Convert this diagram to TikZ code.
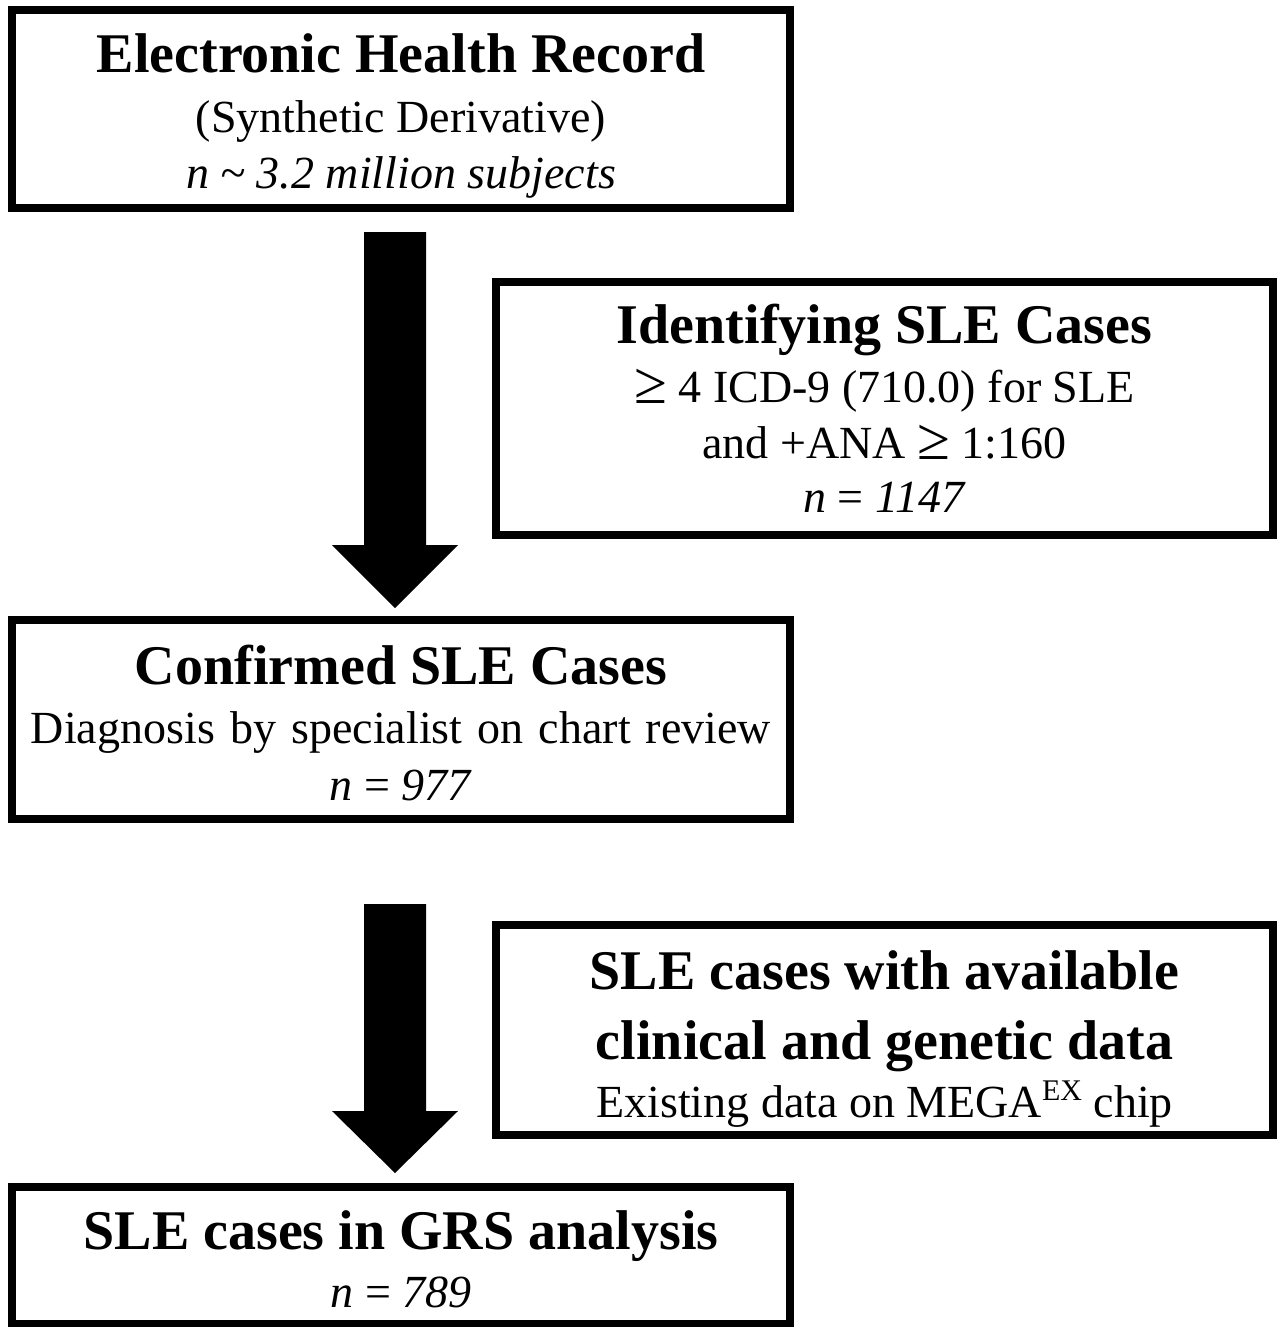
\documentclass[tikz,border=0pt]{standalone}
\usepackage{fontspec}
\setmainfont{Liberation Serif}
\usetikzlibrary{calc}
\newcommand\myge{\raisebox{-0.04em}{\scalebox{1.3}{≥}}}
\begin{document}
\begin{tikzpicture}[x=1pt,y=-1pt,
  box/.style={draw=black,line width=8.5pt,fill=white,inner sep=0pt,outer sep=0pt},
  ttl/.style={anchor=base,inner sep=0pt,font=\fontsize{56}{60}\selectfont\bfseries},
  txt/.style={anchor=base,inner sep=0pt,font=\fontsize{46}{50}\selectfont},
  fat/.style={fill=black}]
\useasboundingbox[fill=white] (0,0) rectangle (1280,1327);
% boxes
\node[box,minimum width=778pt,minimum height=198pt] (b1) at (401,109) {};
\node[box,minimum width=777pt,minimum height=253pt] (b2) at (884.5,408.5) {};
\node[box,minimum width=778pt,minimum height=199pt] (b3) at (401,719.5) {};
\node[box,minimum width=777pt,minimum height=210pt] (b4) at (884.5,1030) {};
\node[box,minimum width=778pt,minimum height=137pt] (b5) at (401,1255.5) {};
% texts
\node[ttl] (t1a) at (401,73) {Electronic Health Record};
\node[txt] (t1b) at (401,132) {(Synthetic Derivative)};
\node[txt] (t1c) at (401,188) {\itshape n \textasciitilde{} 3.2 million subjects};
\node[ttl] (t2a) at (884.5,343) {Identifying SLE Cases};
\node[txt] (t2b) at (884.5,402) {\myge{} 4 ICD-9 (710.0) for SLE};
\node[txt] (t2c) at (884.5,458) {and +ANA \myge{} 1:160};
\node[txt] (t2d) at (884.5,512) {\textit{n} = \textit{1147}};
\node[ttl] (t3a) at (401,684) {Confirmed SLE Cases};
\node[txt] (t3b) at (401,743) {Diagnosis\hspace{0.08em} by\hspace{0.08em} specialist\hspace{0.08em} on\hspace{0.08em} chart\hspace{0.08em} review};
\node[txt] (t3c) at (401,800) {\textit{n} = \textit{977}};
\node[ttl] (t4a) at (884.5,989) {SLE cases with available};
\node[ttl] (t4b) at (884.5,1059) {clinical and genetic data};
\node[txt] (t4c) at (884.5,1117) {Existing data on MEGA\raisebox{0.36em}{\fontsize{30}{30}\selectfont EX} chip};
\node[ttl] (t5a) at (401,1249) {SLE cases in GRS analysis};
\node[txt] (t5b) at (401,1307) {\textit{n} = \textit{789}};
% arrows
\coordinate (a1top) at (395,232);
\coordinate (a1tip) at (395,608);
\coordinate (a2top) at (395,904);
\coordinate (a2tip) at (395,1173);
\fill[fat] (a1top) ++(-31,0) -- ++(62,0) -- ($(a1tip)+(31,-63)$) -- ++(32,0) -- (a1tip) -- ++(-63,-63) -- ++(32,0) -- cycle;
\fill[fat] (a2top) ++(-31,0) -- ++(62,0) -- ($(a2tip)+(31,-62)$) -- ++(32,0) -- (a2tip) -- ++(-63,-62) -- ++(32,0) -- cycle;
\end{tikzpicture}
\end{document}
